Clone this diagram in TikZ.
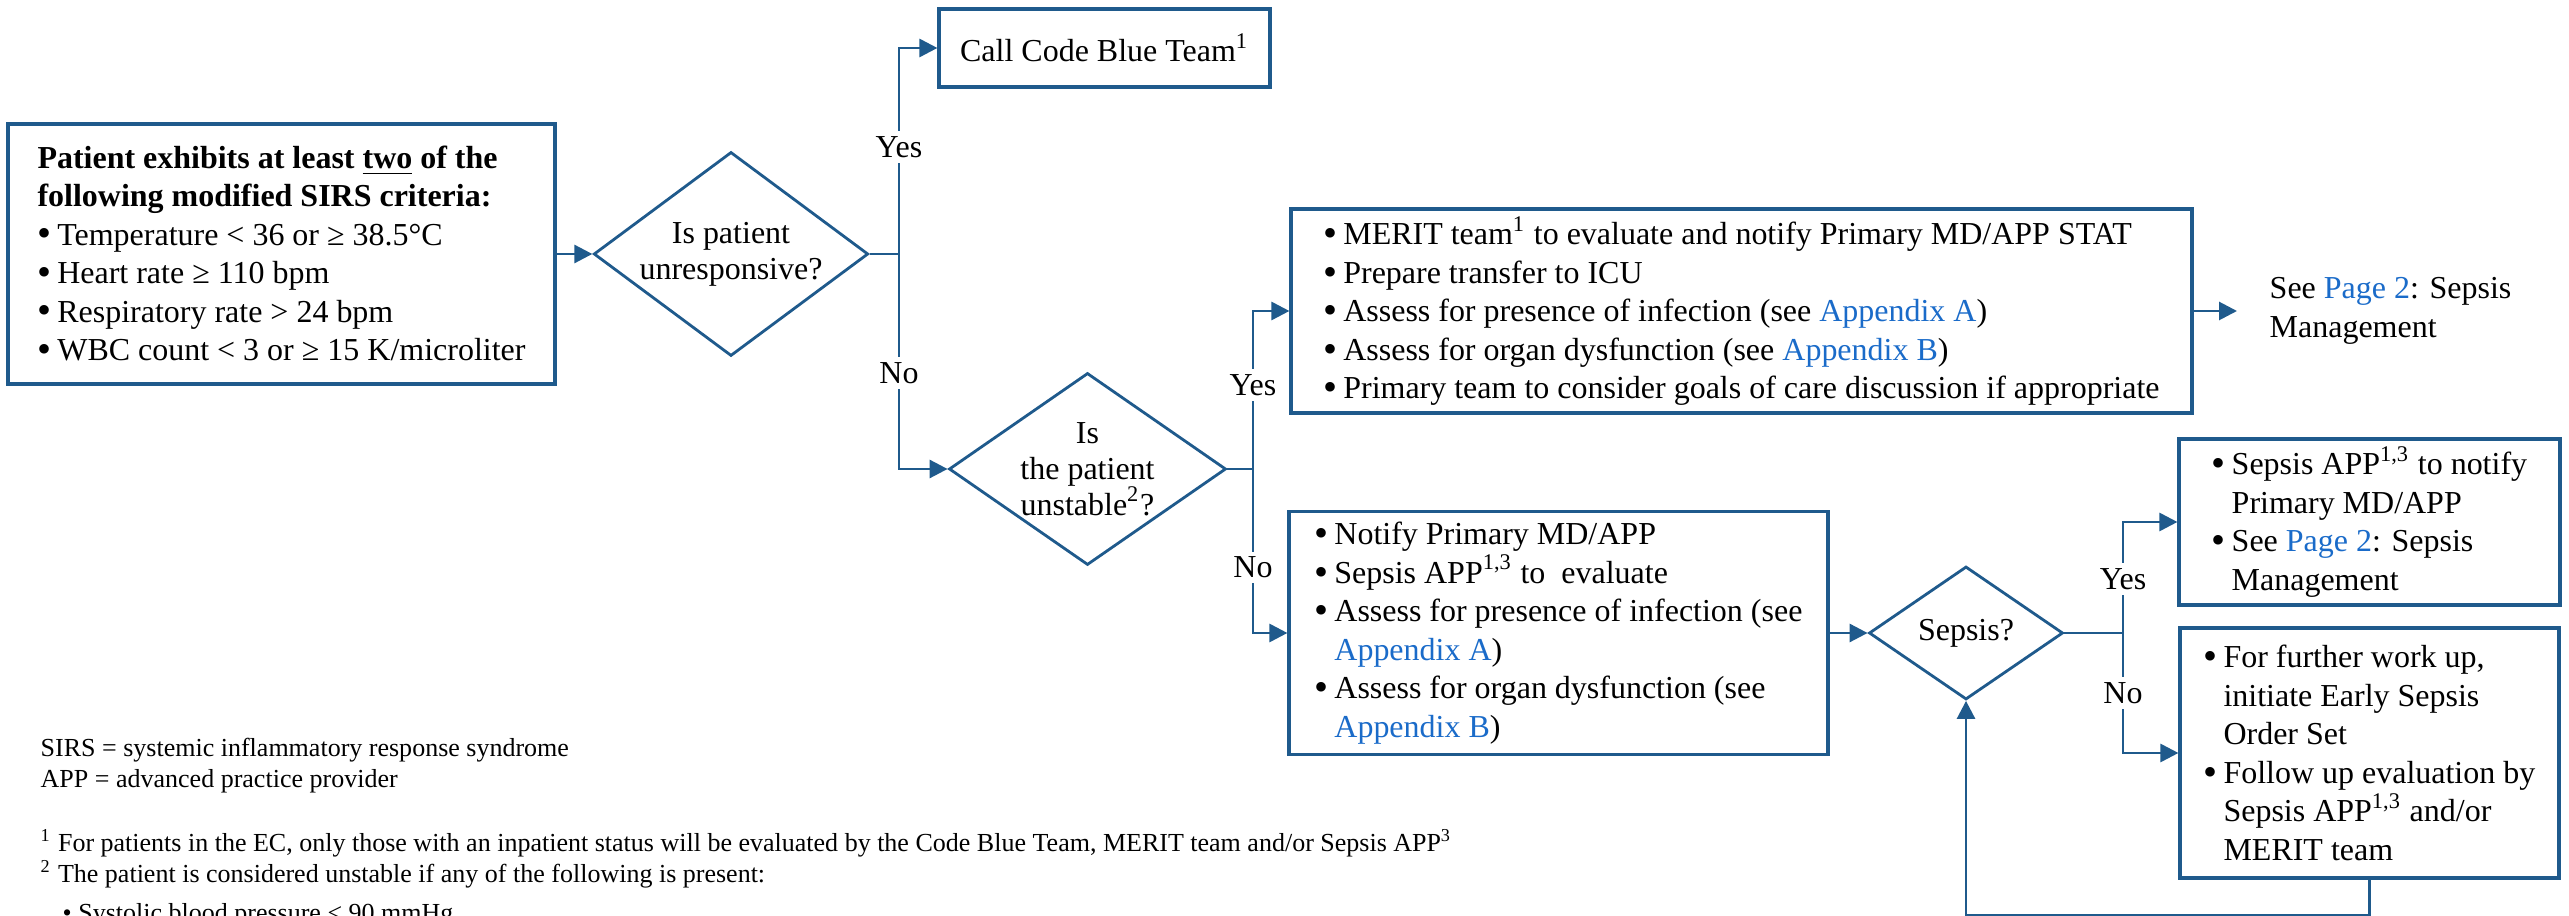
\documentclass[tikz,border=0pt]{standalone}
\usepackage{fontspec}
\setmainfont{Liberation Serif}
\usepackage{tikz}
\usetikzlibrary{arrows.meta,positioning,calc,shapes.geometric}
\definecolor{sepsisline}{HTML}{1F5A8C}
\definecolor{sepsislink}{HTML}{1A6BC9}
\newcommand{\lnk}[1]{\textcolor{sepsislink}{#1}}
\newcommand{\bitem}{\makebox[0.62em][l]{\raisebox{-0.06em}{\scalebox{1.25}{\textbullet}}}}
\newcommand{\bcont}{\hspace*{0.62em}}

\begin{document}
\begin{tikzpicture}[
  font=\fontsize{9.1}{10.95}\selectfont,
  box/.style={draw=sepsisline, line width=0.9pt, align=left, inner sep=0pt},
  dia/.style={draw=sepsisline, line width=0.8pt, diamond, align=center, inner sep=0pt,
              font=\fontsize{9.1}{10.3}\selectfont},
  arr/.style={-{Triangle[length=1.8mm,width=1.8mm]}, line width=0.8pt, draw=sepsisline},
  link/.style={line width=0.8pt, draw=sepsisline},
  lbl/.style={fill=white, inner sep=1.5pt},
  note/.style={font=\fontsize{7.4}{8.8}\selectfont, anchor=base west, inner sep=0pt}
]
\useasboundingbox (0,0) rectangle (25.69,-9.16);

% boxes and decisions
\node[box, minimum width=5.47cm, minimum height=2.60cm] (sirs) at (2.815,-2.54)
  {\textbf{Patient exhibits at least \underline{two} of the}\\
   \textbf{following modified SIRS criteria:}\\
   \bitem Temperature < 36 or ≥ 38.5°C\\
   \bitem Heart rate ≥ 110 bpm\\
   \bitem Respiratory rate > 24 bpm\\
   \bitem WBC count < 3 or ≥ 15 K/microliter};
\node[dia, minimum width=2.745cm, minimum height=2.04cm, aspect=1.35] (unresp) at (7.31,-2.54)
  {Is patient\\unresponsive?};
\node[box, minimum width=3.31cm, minimum height=0.78cm] (codeblue) at (11.045,-0.48)
  {Call Code Blue Team\textsuperscript{1}};
\node[dia, minimum width=2.77cm, minimum height=1.92cm, aspect=1.44] (unstable) at (10.875,-4.69)
  {Is\\the patient\\unstable\textsuperscript{2}?};
\node[box, minimum width=9.01cm, minimum height=2.04cm] (merit) at (17.415,-3.11)
  {\bitem MERIT team\textsuperscript{1} to evaluate and notify Primary MD/APP STAT\\
   \bitem Prepare transfer to ICU\\
   \bitem Assess for presence of infection (see \lnk{Appendix A})\\
   \bitem Assess for organ dysfunction (see \lnk{Appendix B})\\
   \bitem Primary team to consider goals of care discussion if appropriate};
\node[anchor=west, inner xsep=0.32cm, inner ysep=0pt, align=left] (seepage) at (22.37,-3.11)
  {See \lnk{Page 2}: Sepsis\\Management};
\node[box, minimum width=5.39cm, minimum height=2.43cm] (notify) at (15.585,-6.33)
  {\bitem Notify Primary MD/APP\\
   \bitem Sepsis APP\textsuperscript{1,3} to~ evaluate\\
   \bitem Assess for presence of infection (see\\
   \bcont\lnk{Appendix A})\\
   \bitem Assess for organ dysfunction (see\\
   \bcont\lnk{Appendix B})};
\node[dia, minimum width=1.94cm, minimum height=1.33cm, aspect=1.46] (sepsis) at (19.66,-6.33)
  {Sepsis?};
\node[box, minimum width=3.81cm, minimum height=1.66cm] (notifyapp) at (23.695,-5.22)
  {\bitem Sepsis APP\textsuperscript{1,3} to notify\\
   \bcont Primary MD/APP\\
   \bitem See \lnk{Page 2}: Sepsis\\
   \bcont Management};
\node[box, minimum width=3.79cm, minimum height=2.50cm] (workup) at (23.695,-7.53)
  {\bitem For further work up,\\
   \bcont initiate Early Sepsis\\
   \bcont Order Set\\
   \bitem Follow up evaluation by\\
   \bcont Sepsis APP\textsuperscript{1,3} and/or\\
   \bcont MERIT team};

% connectors
\draw[arr] (sirs.east) -- (unresp.west);
\coordinate (fork1) at (8.99,-2.54);
\draw[link] (unresp.east) -- (fork1);
\draw[arr] (fork1) |- (codeblue.west);
\draw[arr] (fork1) |- (unstable.west);
\coordinate (fork2) at (12.53,-4.69);
\draw[link] (unstable.east) -- (fork2);
\draw[arr] (fork2) |- (merit.west);
\draw[arr] (fork2) |- (notify.west);
\draw[arr] (merit.east) -- (seepage.west);
\draw[arr] (notify.east) -- (sepsis.west);
\coordinate (fork3) at (21.23,-6.33);
\draw[link] (sepsis.east) -- (fork3);
\draw[arr] (fork3) |- (notifyapp.west);
\draw[arr] (fork3) |- (workup.west);
\coordinate (back) at (23.695,-9.15);
\draw[arr] (workup.south) -- (back) -| (sepsis.south);

% branch labels
\node[lbl] (yes1) at (8.99,-1.47) {Yes};
\node[lbl] (no1) at (8.99,-3.73) {No};
\node[lbl] (yes2) at (12.53,-3.85) {Yes};
\node[lbl] (no2) at (12.53,-5.675) {No};
\node[lbl] (yes3) at (21.23,-5.79) {Yes};
\node[lbl] (no3) at (21.23,-6.93) {No};

% footnotes
\node[note] (abbrsirs) at (0.40,-7.57) {SIRS = systemic inflammatory response syndrome};
\node[note] (abbrapp) at (0.40,-7.88) {APP = advanced practice provider};
\node[note] (fncode) at (0.40,-8.52)
  {\textsuperscript{1} For patients in the EC, only those with an inpatient status will be evaluated by the Code Blue Team, MERIT team and/or Sepsis APP\textsuperscript{3}};
\node[note] (fnunstable) at (0.40,-8.83)
  {\textsuperscript{2} The patient is considered unstable if any of the following is present:};
\node[note] (fnsbp) at (0.62,-9.22) {\textbullet\ Systolic blood pressure < 90 mmHg};
\end{tikzpicture}
\end{document}
